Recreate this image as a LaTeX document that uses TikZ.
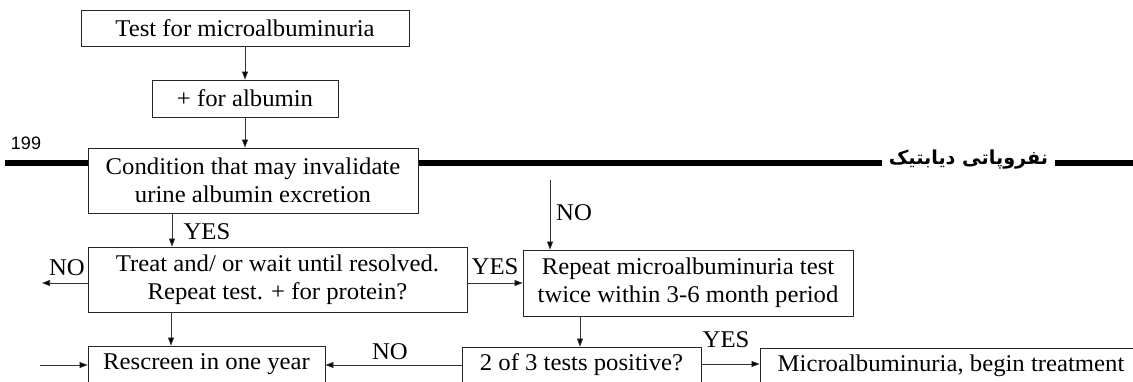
\documentclass[tikz,border=0pt]{standalone}
\usepackage{fontspec}
\setmainfont{Liberation Serif}[FakeStretch=1.03]
\newfontfamily\fafont[Script=Arabic]{DejaVu Sans}
\newfontfamily\numfont{Liberation Sans}
\TeXXeTstate=1
\usetikzlibrary{arrows.meta}
\newcommand\fs{\fontsize{24}{28}\selectfont}
\begin{document}
\begin{tikzpicture}[x=1pt,y=-1pt,
  box/.style={draw=black!85, line width=0.8pt, fill=white, inner sep=0pt, align=center, font=\fs},
  conn/.style={draw=black!80, line width=0.7pt, -{Triangle[length=8pt,width=6pt,fill=black]}},
  lbl/.style={font=\fs, inner sep=0pt},
  rule/.style={line width=5.5pt, black}]
\useasboundingbox (0,0) rectangle (1133,381);
\clip (0,0) rectangle (1133,381);
% header rule
\draw[rule] (5,163) -- (1133,163);
\node[fill=white, minimum width=173pt, minimum height=14pt, inner sep=0pt, font=\fafont\bfseries\fontsize{19.2}{21}\selectfont] (title) at (968.5,160) {\beginR نفروپاتی دیابتیک\endR};
\node[font=\numfont\fontsize{18}{20}\selectfont, inner sep=0pt] (page) at (26,143) {199};
% boxes
\node[box, minimum width=328pt, minimum height=36pt] (b1) at (245,28) {Test for microalbuminuria};
\node[box, minimum width=186pt, minimum height=37pt] (b2) at (245,98.5) {+ for albumin};
\node[box, minimum width=330pt, minimum height=65pt] (b3) at (253,180.5) {Condition that may invalidate\\urine albumin excretion};
\node[box, minimum width=379pt, minimum height=65pt] (b4) at (277.5,279.5) {Treat and/ or wait until resolved.\\Repeat test. + for protein?};
\node[box, minimum width=237pt, minimum height=36pt] (b5) at (206.5,364) {Rescreen in one year};
\node[box, minimum width=330pt, minimum height=66pt] (b6) at (688,283) {Repeat microalbuminuria test\\twice within 3-6 month period};
\node[box, minimum width=239pt, minimum height=36pt] (b7) at (581.5,365) {2 of 3 tests positive?};
\node[box, minimum width=382pt, minimum height=36pt] (b8) at (951,366) {Microalbuminuria, begin treatment};
% free ends
\coordinate (noout) at (42,283);
\coordinate (rein) at (40,365);
\coordinate (notop) at (550,180);
% connectors
\draw[conn] (b1.south) -- (b2.north);
\draw[conn] (b2.south) -- (b2.south |- b3.north);
\draw[conn] (b3.south -| 172,0) -- (b4.north -| 172,0);
\draw[conn] (b4.west |- noout) -- (noout);
\draw[conn] (b4.east |- b6.west) -- (b6.west);
\draw[conn] (notop) -- (notop |- b6.north);
\draw[conn] (b4.south -| 171,0) -- (b5.north -| 171,0);
\draw[conn] (rein) -- (b5.west |- rein);
\draw[conn] (b6.south -| 580,0) -- (b7.north -| 580,0);
\draw[conn] (b7.west |- 0,365) -- (b5.east |- 0,365);
\draw[conn] (b7.east |- 0,364) -- (b8.west |- 0,364);
% labels
\node[lbl] (lyes1) at (207,232) {YES};
\node[lbl] (lno1) at (67,268) {NO};
\node[lbl] (lyes2) at (495,267) {YES};
\node[lbl] (lno2) at (574,213) {NO};
\node[lbl] (lno3) at (390,352) {NO};
\node[lbl] (lyes3) at (726,340) {YES};
\end{tikzpicture}
\end{document}
